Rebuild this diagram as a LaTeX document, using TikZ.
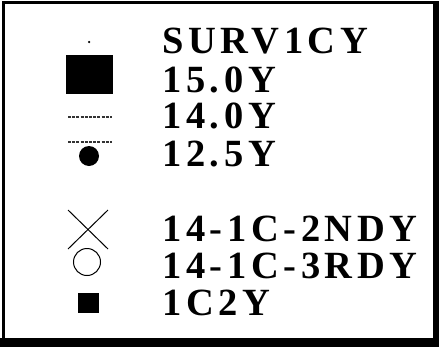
\documentclass[tikz,border=0pt]{standalone}
\usepackage{fontspec}
\newfontfamily\lblfont[LetterSpace=12]{Liberation Serif}
\begin{document}
\begin{tikzpicture}[x=1pt,y=-1pt,
  lbl/.style={anchor=base west,inner sep=0pt,font=\lblfont\bfseries\fontsize{38.5}{38.5}\selectfont},
  blk/.style={fill=black,draw=none,inner sep=0pt},
  dashline/.style={line width=1.2pt,black!80,dash pattern=on 3pt off 1.2pt}]
\useasboundingbox (0,0) rectangle (443,348);
% frame
\fill[black] (2,1) rectangle (5,347);
\fill[black] (2,1) rectangle (439,4);
\fill[black] (433,1) rectangle (439,347);
\fill[black] (0,338) rectangle (439,347);
% labels
\node[lbl] (t1) at (162,53) {SURV1CY};
\node[lbl] (t2) at (162,92) {15.0Y};
\node[lbl] (t3) at (162,128) {14.0Y};
\node[lbl] (t4) at (162,166) {12.5Y};
\node[lbl] (t5) at (162,241) {14-1C-2NDY};
\node[lbl] (t6) at (162,278) {14-1C-3RDY};
\node[lbl] (t7) at (162,315) {1C2Y};
% symbols
\node[blk,circle,minimum size=2.5pt] (s1) at (89,42) {};
\node[blk,rectangle,minimum width=47pt,minimum height=39pt] (s2) at (89.5,74.5) {};
\coordinate (d1a) at (68,117); \coordinate (d1b) at (112,117);
\draw[dashline] (d1a) -- (d1b);
\coordinate (d2a) at (68,142); \coordinate (d2b) at (112,142);
\draw[dashline] (d2a) -- (d2b);
\node[blk,circle,minimum size=20pt] (s4) at (89,156) {};
\coordinate (xa) at (68,210); \coordinate (xb) at (108,249);
\coordinate (xc) at (108,210); \coordinate (xd) at (68,249);
\draw[line width=1pt] (xa) -- (xb) (xc) -- (xd);
\node[draw,circle,line width=1pt,minimum size=27pt,inner sep=0pt] (s6) at (87,262) {};
\node[blk,rectangle,minimum width=21pt,minimum height=20pt] (s7) at (88.5,303) {};
\end{tikzpicture}
\end{document}
